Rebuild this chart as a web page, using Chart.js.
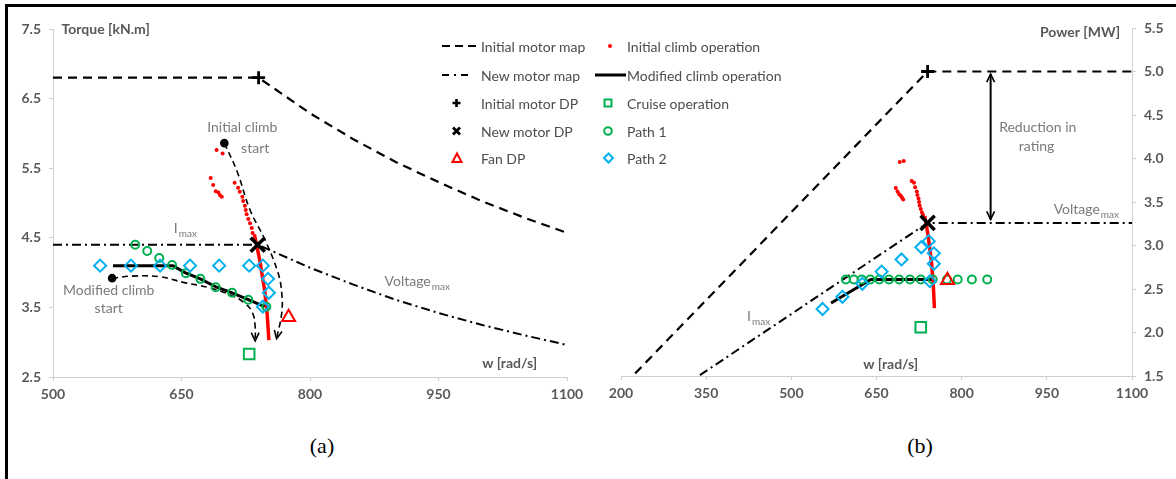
<!DOCTYPE html>
<html>
<head>
<meta charset="utf-8">
<script src="https://cdn.jsdelivr.net/npm/chart.js@4.4.1/dist/chart.umd.min.js"></script>
<style>
  html, body { margin: 0; padding: 0; background: #fff; }
  body { width: 1176px; height: 479px; position: relative; overflow: hidden; font-family: Lato, 'Open Sans', sans-serif; }
  .frame { position: absolute; left: 5px; top: 4px; width: 1300px; height: 600px; border-left: 3px solid #000; border-top: 3px solid #000; }
  .panel { position: absolute; top: 0; }
  #torquePanel { left: 0; }
  #powerPanel { left: 600px; }
  .caption { position: absolute; top: 433px; font-family: 'Liberation Serif', 'Times New Roman', serif; font-size: 22px; color: #000; transform: translateX(-50%); }
  .legend { position: absolute; left: 0; top: 0; }
  .legend-item { position: absolute; height: 18px; display: flex; align-items: center; font-size: 14px; color: #4d4d4d; white-space: nowrap; }
  .legend-item svg { display: block; }
</style>
</head>
<body>
<div class="frame"></div>
<div class="panel" id="torquePanel"><canvas id="torqueChart" width="590" height="430"></canvas></div>
<div class="panel" id="powerPanel"><canvas id="powerChart" width="576" height="430"></canvas></div>
<div class="caption" style="left:322px">(a)</div>
<div class="caption" style="left:920px">(b)</div>
<div class="legend" id="legend"></div>

<script>
// axis ticks
const speedTicksA = [500, 650, 800, 950, 1100];
const torqueTicks = [2.5, 3.5, 4.5, 5.5, 6.5, 7.5];
const speedTicksB = [200, 350, 500, 650, 800, 950, 1100];
const powerTicks = [1.5, 2.0, 2.5, 3.0, 3.5, 4.0, 4.5, 5.0, 5.5];

// (a) torque vs speed
const initMapSpeed = [500, 740, 800, 850, 900, 950, 1000, 1050, 1100];
const initMapTorque = [6.8, 6.8, 6.29, 5.92, 5.59, 5.30, 5.03, 4.79, 4.57];
const newMapSpeed = [500, 739, 800, 850, 900, 950, 1000, 1050, 1100];
const newMapTorque = [4.4, 4.4, 4.07, 3.83, 3.61, 3.42, 3.25, 3.10, 2.96];

const climbSpeed = [691, 698, 684, 687, 690, 693, 695, 697, 712, 716, 718, 721, 722, 724, 725, 726, 728, 730, 732, 733];
const climbTorque = [5.76, 5.71, 5.36, 5.26, 5.17, 5.15, 5.11, 5.09, 5.29, 5.22, 5.16, 5.09, 5.03, 4.96, 4.90, 4.84, 4.77, 4.71, 4.64, 4.57];
const climbTailSpeed = [735, 741, 747, 750, 752];
const climbTailTorque = [4.55, 4.20, 3.75, 3.40, 3.03];

const modSpeed = [570, 640, 654, 672, 691, 709, 728, 747];
const modTorque = [4.10, 4.10, 4.00, 3.91, 3.79, 3.71, 3.61, 3.51];

const path1Speed = [596, 610, 624, 639, 655, 672, 690, 709, 728, 749];
const path1Torque = [4.40, 4.31, 4.21, 4.11, 3.99, 3.91, 3.79, 3.71, 3.61, 3.51];
const path2Speed = [555, 591, 625, 660, 694, 729, 745, 751, 752, 745];
const path2Torque = [4.10, 4.10, 4.10, 4.10, 4.10, 4.10, 4.10, 3.91, 3.71, 3.51];

const cruiseA = [729, 2.83];
const fanDpA = [775, 3.36];
const initDpA = [740, 6.8];
const newDpA = [739, 4.4];

// climb start arrows on (a)
const initArrowSpeed = [700, 715, 730, 747.5, 762.6, 767, 767, 761];
const initArrowTorque = [5.86, 5.45, 4.90, 4.47, 4.00, 3.71, 3.42, 3.05];
const modArrowSpeed = [569, 593, 625, 652, 680, 707, 724, 733, 736, 736];
const modArrowTorque = [3.92, 3.95, 3.94, 3.86, 3.79, 3.68, 3.56, 3.42, 3.22, 3.02];

// (b) power vs speed
const initMapSpeedB = [225, 740, 1100];
const initMapPower = [1.53, 5.0, 5.0];
const newMapSpeedB = [339, 740, 1100];
const newMapPower = [1.51, 3.26, 3.26];

const climbPower = [3.96, 3.97, 3.66, 3.62, 3.59, 3.57, 3.55, 3.53, 3.74, 3.72, 3.67, 3.62, 3.58, 3.54, 3.50, 3.46, 3.42, 3.38, 3.35, 3.32];
const climbTailPower = [3.34, 3.11, 2.80, 2.55, 2.28];

const modPower = [2.34, 2.61, 2.61, 2.61, 2.61, 2.61, 2.61, 2.61];

const path1SpeedB = [596, 610, 624, 639, 655, 672, 690, 709, 728, 749, 774, 793, 818, 845];
const path1Power = [2.61, 2.61, 2.61, 2.61, 2.61, 2.61, 2.61, 2.61, 2.61, 2.61, 2.61, 2.61, 2.61, 2.61];
const path2SpeedB = [555, 590, 625, 659, 694, 729, 742, 751, 751, 744];
const path2Power = [2.27, 2.41, 2.56, 2.70, 2.84, 2.98, 3.05, 2.91, 2.79, 2.59];

const cruiseB = [728, 2.06];
const fanDpB = [775, 2.60];
const initDpB = [740, 5.0];
const newDpB = [740, 3.26];

const ratingArrowSpeed = [851, 851];
const ratingArrowPower = [4.97, 3.30];

const RED = '#ff0000';
const GREEN = '#00b050';
const BLUE = '#00b0f0';
const AXIS = '#d0d0d0';
const TICK_TEXT = '#595959';
const NOTE_TEXT = '#7a7a7a';

function xy(xs, ys) {
  return xs.map((x, i) => ({ x, y: ys[i] }));
}

function lineSet(data, opts) {
  return Object.assign({
    data,
    showLine: true,
    pointRadius: 0,
    pointHoverRadius: 0,
    borderColor: '#000',
    borderWidth: 2,
    fill: false,
    tension: 0,
  }, opts);
}

function markerSet(data, style, color, radius, width, opts) {
  return Object.assign({
    data,
    showLine: false,
    pointStyle: style,
    pointRadius: radius,
    pointBorderColor: color,
    pointBackgroundColor: 'rgba(0,0,0,0)',
    pointBorderWidth: width,
    borderColor: color,
  }, opts);
}

function arrowSet(data) {
  return lineSet(data, {
    borderWidth: 1.6,
    borderDash: [6, 4],
    tension: 0.4,
    arrowEnd: true,
    pointRadius: (ctx) => (ctx.dataIndex === 0 ? 3.5 : 0),
    pointBackgroundColor: '#000',
    pointBorderColor: '#000',
  });
}

function drawHead(ctx, tip, from) {
  const ang = Math.atan2(tip.y - from.y, tip.x - from.x);
  const len = 9;
  const spread = 0.45;
  ctx.beginPath();
  ctx.moveTo(tip.x - len * Math.cos(ang - spread), tip.y - len * Math.sin(ang - spread));
  ctx.lineTo(tip.x, tip.y);
  ctx.lineTo(tip.x - len * Math.cos(ang + spread), tip.y - len * Math.sin(ang + spread));
  ctx.stroke();
}

// arrowheads and text labels drawn on top of the datasets
const notesPlugin = {
  id: 'notes',
  afterDatasetsDraw(chart, args, opts) {
    const { ctx } = chart;
    const xs = chart.scales.x;
    const ys = chart.scales.y;
    ctx.save();
    ctx.setLineDash([]);
    ctx.strokeStyle = '#000';
    ctx.lineWidth = 1.6;
    chart.data.datasets.forEach((ds, i) => {
      if (!ds.arrowEnd && !ds.arrowBoth) return;
      const pts = chart.getDatasetMeta(i).data;
      const n = pts.length;
      drawHead(ctx, pts[n - 1], pts[n - 2]);
      if (ds.arrowBoth) drawHead(ctx, pts[0], pts[1]);
    });

    ctx.textBaseline = 'middle';
    (opts.items || []).forEach((note) => {
      const px = xs.getPixelForValue(note.x);
      const py = ys.getPixelForValue(note.y);
      ctx.font = note.font || '14px Lato, sans-serif';
      ctx.fillStyle = note.color || NOTE_TEXT;
      ctx.textAlign = note.align || 'center';
      ctx.fillText(note.text, px, py);
      if (note.sub) {
        const w = ctx.measureText(note.text).width;
        let left = px + w / 2;
        if (note.align === 'left') left = px + w;
        if (note.align === 'right') left = px;
        ctx.font = '10px Lato, sans-serif';
        ctx.textAlign = 'left';
        ctx.fillText(note.sub, left + 1, py + 5);
      }
    });
    ctx.restore();
  },
};

function axis(min, max, ticks, position, fmt, size) {
  return {
    type: 'linear',
    position,
    min,
    max,
    afterBuildTicks(scale) {
      scale.ticks = ticks.map((value) => ({ value }));
    },
    afterFit(scale) {
      if (position === 'bottom') scale.height = size;
      else scale.width = size;
    },
    ticks: {
      color: TICK_TEXT,
      font: { family: 'Lato, sans-serif', size: 14, weight: 'bold' },
      padding: position === 'bottom' ? 5 : 8,
      callback: fmt,
    },
    grid: {
      display: true,
      drawOnChartArea: false,
      drawTicks: true,
      tickLength: 4,
      color: AXIS,
    },
    border: { display: true, color: AXIS, width: 1 },
  };
}

function baseOptions(scales, padding, notes) {
  return {
    responsive: false,
    animation: false,
    layout: { padding },
    scales,
    plugins: {
      legend: { display: false },
      tooltip: { enabled: false },
      notes: { items: notes },
    },
    elements: { line: { borderCapStyle: 'butt' } },
  };
}

Chart.register(notesPlugin);

new Chart(document.getElementById('torqueChart'), {
  type: 'scatter',
  data: {
    datasets: [
      markerSet([{ x: newDpA[0], y: newDpA[1] }], 'crossRot', '#000', 10, 3.5),
      markerSet([{ x: initDpA[0], y: initDpA[1] }], 'cross', '#000', 6.5, 2.8),
      markerSet([{ x: fanDpA[0], y: fanDpA[1] }], 'triangle', RED, 7.5, 2),
      markerSet([{ x: cruiseA[0], y: cruiseA[1] }], 'rect', GREEN, 7.5, 2),
      markerSet(xy(path2Speed, path2Torque), 'rectRot', BLUE, 6, 2),
      markerSet(xy(path1Speed, path1Torque), 'circle', GREEN, 4, 2),
      lineSet(xy(modSpeed, modTorque), { borderWidth: 3 }),
      lineSet(xy(climbTailSpeed, climbTailTorque), { borderColor: RED, borderWidth: 3.5 }),
      markerSet(xy(climbSpeed, climbTorque), 'circle', RED, 2, 0, { pointBackgroundColor: RED }),
      arrowSet(xy(initArrowSpeed, initArrowTorque)),
      arrowSet(xy(modArrowSpeed, modArrowTorque)),
      lineSet(xy(initMapSpeed, initMapTorque), { borderDash: [9, 6], borderWidth: 2.2 }),
      lineSet(xy(newMapSpeed, newMapTorque), { borderDash: [9, 4, 2, 4], borderWidth: 2 }),
    ],
  },
  options: baseOptions(
    {
      x: axis(500, 1100, speedTicksA, 'bottom', (v) => String(v), 53),
      y: axis(2.5, 7.5, torqueTicks, 'left', (v) => v.toFixed(1), 53),
    },
    { top: 29, right: 23, left: 0, bottom: 0 },
    [
      { text: 'Torque [kN.m]', x: 510, y: 7.49, align: 'left', font: 'bold 14px Lato, sans-serif', color: TICK_TEXT },
      { text: 'w [rad/s]', x: 1033, y: 2.70, font: 'bold 14px Lato, sans-serif', color: TICK_TEXT },
      { text: 'Initial climb', x: 721, y: 6.08 },
      { text: 'start', x: 736, y: 5.79 },
      { text: 'Modified climb', x: 565, y: 3.75 },
      { text: 'start', x: 565, y: 3.49 },
      { text: 'I', sub: 'max', x: 641, y: 4.63, align: 'left' },
      { text: 'Voltage', sub: 'max', x: 887, y: 3.87, align: 'left' },
    ],
  ),
});

new Chart(document.getElementById('powerChart'), {
  type: 'scatter',
  data: {
    datasets: [
      markerSet([{ x: newDpB[0], y: newDpB[1] }], 'crossRot', '#000', 10, 3.5),
      markerSet([{ x: initDpB[0], y: initDpB[1] }], 'cross', '#000', 6.5, 2.8),
      markerSet([{ x: fanDpB[0], y: fanDpB[1] }], 'triangle', RED, 7.5, 2),
      markerSet([{ x: cruiseB[0], y: cruiseB[1] }], 'rect', GREEN, 7.5, 2),
      markerSet(xy(path2SpeedB, path2Power), 'rectRot', BLUE, 6, 2),
      markerSet(xy(path1SpeedB, path1Power), 'circle', GREEN, 4, 2),
      lineSet(xy(modSpeed, modPower), { borderWidth: 3 }),
      lineSet(xy(climbTailSpeed, climbTailPower), { borderColor: RED, borderWidth: 3.5 }),
      markerSet(xy(climbSpeed, climbPower), 'circle', RED, 2, 0, { pointBackgroundColor: RED }),
      lineSet(xy(ratingArrowSpeed, ratingArrowPower), { borderWidth: 2, arrowBoth: true }),
      lineSet(xy(initMapSpeedB, initMapPower), { borderDash: [9, 6], borderWidth: 2.2 }),
      lineSet(xy(newMapSpeedB, newMapPower), { borderDash: [9, 4, 2, 4], borderWidth: 2 }),
    ],
  },
  options: baseOptions(
    {
      x: axis(200, 1100, speedTicksB, 'bottom', (v) => String(v), 54),
      y: axis(1.5, 5.5, powerTicks, 'right', (v) => v.toFixed(1), 44),
    },
    { top: 28, right: 0, left: 21, bottom: 0 },
    [
      { text: 'Power [MW]', x: 1079, y: 5.45, align: 'right', font: 'bold 14px Lato, sans-serif', color: TICK_TEXT },
      { text: 'w [rad/s]', x: 675, y: 1.63, font: 'bold 14px Lato, sans-serif', color: TICK_TEXT },
      { text: 'Reduction in', x: 934, y: 4.36 },
      { text: 'rating', x: 932, y: 4.14 },
      { text: 'Voltage', sub: 'max', x: 962, y: 3.41, align: 'left' },
      { text: 'I', sub: 'max', x: 422, y: 2.18, align: 'left' },
    ],
  ),
});

// legend between the two panels
const legendRows = [46, 75, 103, 131, 158];
const legendLeft = [
  { name: 'Initial motor map', svg: '<line x1="2" y1="9" x2="39" y2="9" stroke="#000" stroke-width="2.2" stroke-dasharray="8,5"/>' },
  { name: 'New motor map', svg: '<line x1="2" y1="9" x2="30" y2="9" stroke="#000" stroke-width="2.2" stroke-dasharray="7,5,2,5"/>' },
  { name: 'Initial motor DP', svg: '<path d="M12.5 9h8M16.5 5v8" stroke="#000" stroke-width="2.6"/>' },
  { name: 'New motor DP', svg: '<path d="M13 5.5l7 7M20 5.5l-7 7" stroke="#000" stroke-width="2.8"/>' },
  { name: 'Fan DP', svg: '<path d="M17 4.5L21.5 13H12.5Z" fill="none" stroke="' + RED + '" stroke-width="2"/>' },
];
const legendRight = [
  { name: 'Initial climb operation', svg: '<circle cx="16" cy="9" r="2" fill="' + RED + '"/>' },
  { name: 'Modified climb operation', svg: '<line x1="1" y1="9" x2="32" y2="9" stroke="#000" stroke-width="3"/>' },
  { name: 'Cruise operation', svg: '<rect x="10.5" y="5.5" width="7" height="7" fill="none" stroke="' + GREEN + '" stroke-width="2"/>' },
  { name: 'Path 1', svg: '<circle cx="14" cy="9" r="3.8" fill="none" stroke="' + GREEN + '" stroke-width="2"/>' },
  { name: 'Path 2', svg: '<path d="M14.5 4.5L19 9L14.5 13.5L10 9Z" fill="none" stroke="' + BLUE + '" stroke-width="2"/>' },
];

function legendColumn(items, left, svgWidth, textGap) {
  return items.map((item, i) => `
    <div class="legend-item" style="left:${left}px;top:${legendRows[i] - 9}px">
      <svg width="${svgWidth}" height="18">${item.svg}</svg>
      <span style="margin-left:${textGap}px">${item.name}</span>
    </div>`).join('');
}

document.getElementById('legend').innerHTML =
  legendColumn(legendLeft, 440, 40, 1) + legendColumn(legendRight, 594, 32, 1);
</script>
</body>
</html>
